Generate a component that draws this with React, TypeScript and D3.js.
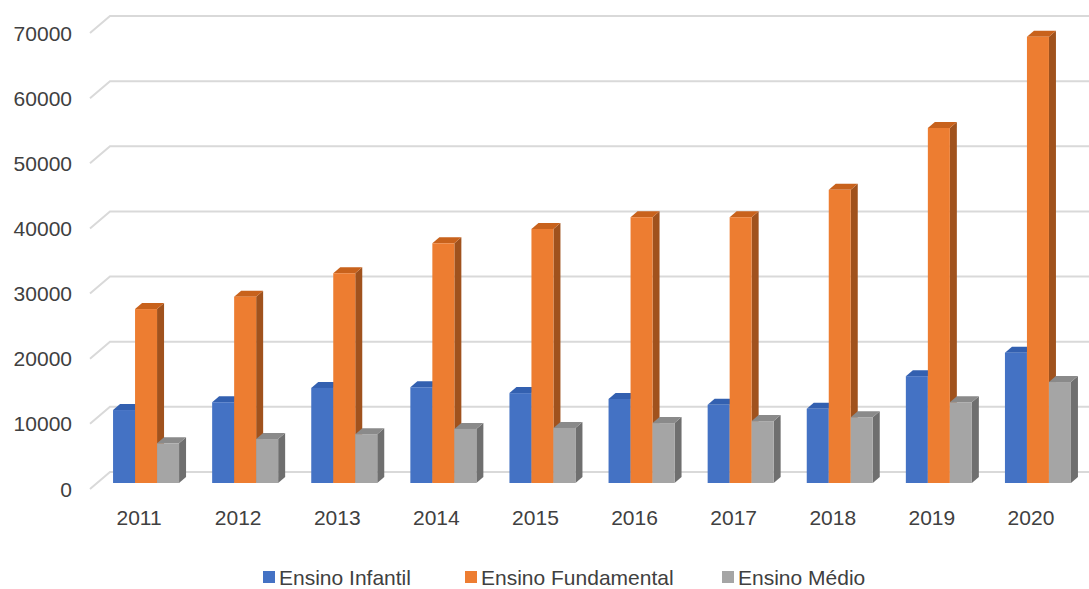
import React from 'react';
import * as d3 from 'd3';

// Data
const YEARS = ['2011', '2012', '2013', '2014', '2015', '2016', '2017', '2018', '2019', '2020'];
const SERIES = ['Ensino Infantil', 'Ensino Fundamental', 'Ensino Médio'];
const INFANTIL = [11200, 12400, 14600, 14700, 13800, 12900, 12000, 11400, 16400, 20000];
const FUNDAMENTAL = [26700, 28600, 32200, 36800, 39000, 40800, 40800, 45000, 54500, 68500];
const MEDIO = [6100, 6750, 7500, 8300, 8450, 9200, 9500, 10100, 12400, 15500];
const Y_TICKS = [0, 10000, 20000, 30000, 40000, 50000, 60000, 70000];

// colours: front, top, side
const COLORS = [
  { front: '#4472c4', top: '#3360b0', side: '#2f5597' },
  { front: '#ed7d31', top: '#c8621c', side: '#a0521d' },
  { front: '#a5a5a5', top: '#8a8a8a', side: '#6f6f6f' },
];

const W = 1089;
const H = 589;
const DX = 7; // bar depth offset
const DY = -6;

export default function App() {
  const values = [INFANTIL, FUNDAMENTAL, MEDIO];

  const x0 = d3.scaleBand<string>()
    .domain(YEARS)
    .range([96.5, 1087.5])
    .paddingInner(0.334)
    .paddingOuter(0.167);

  const x1 = d3.scaleBand<number>()
    .domain(d3.range(SERIES.length))
    .range([0, x0.bandwidth()]);

  // value scale on the plane where the bars stand
  const y = d3.scaleLinear().domain([0, 70000]).range([483, 27]);

  const font = '"Liberation Sans", Arial, sans-serif';
  const legendX = [263, 465, 722];

  return (
    <svg width={W} height={H} style={{ position: 'absolute', left: 0, top: 0, background: '#fff' }}
      fontFamily={font}>
      {/* back wall gridlines with floor diagonal */}
      {Y_TICKS.map((t) => {
        const yb = y(t) - 11;
        return (
          <g key={t}>
            <path d={`M90,${yb + 17}L110,${yb}L${W},${yb}`} fill="none" stroke="#d9d9d9" strokeWidth={2} />
            <text x={72} y={yb + 17} dy="0.36em" textAnchor="end" fontSize={21} fill="#404040">{t}</text>
          </g>
        );
      })}

      {/* bars */}
      {YEARS.map((yr, i) => (
        <g key={yr} transform={`translate(${x0(yr)},0)`}>
          {values.map((vals, s) => {
            const bx = x1(s)!;
            const bw = x1.bandwidth();
            const top = y(vals[i]);
            const base = y(0);
            const c = COLORS[s];
            return (
              <g key={s}>
                <polygon
                  points={`${bx + bw},${top} ${bx + bw + DX},${top + DY} ${bx + bw + DX},${base + DY} ${bx + bw},${base}`}
                  fill={c.side}
                />
                <polygon
                  points={`${bx},${top} ${bx + DX},${top + DY} ${bx + bw + DX},${top + DY} ${bx + bw},${top}`}
                  fill={c.top}
                />
                <rect x={bx} y={top} width={bw} height={base - top} fill={c.front} />
              </g>
            );
          })}
          <text x={x0.bandwidth() / 2 - 7} y={517} dy="0.36em" textAnchor="middle" fontSize={21} fill="#404040">
            {yr}
          </text>
        </g>
      ))}

      {/* legend */}
      {SERIES.map((name, s) => (
        <g key={name} transform={`translate(${legendX[s]},577)`}>
          <rect x={0} y={-6} width={12} height={12} fill={COLORS[s].front} />
          <text x={16} y={0} dy="0.36em" fontSize={21} fill="#404040">{name}</text>
        </g>
      ))}
    </svg>
  );
}
